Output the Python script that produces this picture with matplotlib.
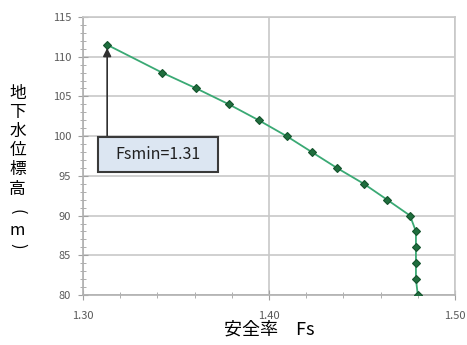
import matplotlib
matplotlib.use('Agg')
import matplotlib.pyplot as plt
from matplotlib.patches import Rectangle
from matplotlib.ticker import MultipleLocator

plt.rcParams['font.family'] = ['Noto Sans CJK JP', 'DejaVu Sans']

# safety factor vs groundwater level
fs = [1.313, 1.3425, 1.361, 1.3785, 1.3945, 1.4095, 1.423, 1.4365, 1.451,
      1.4635, 1.4758, 1.479, 1.479, 1.479, 1.479, 1.480]
level = [111.5, 108, 106, 104, 102, 100, 98, 96, 94, 92, 90, 88, 86, 84, 82, 80]
fsmin_label = 'Fsmin=1.31'

fig = plt.figure(figsize=(4.67, 3.45), dpi=100)
ax = fig.add_axes([0.1777, 0.1449, 0.7966, 0.8058])

ax.plot(fs, level, color='#3aa974', lw=1.3, marker='D', ms=3.6,
        mfc='#1f6e3e', mec='#15532d', mew=0.8, zorder=3)

ax.set_xlim(1.30, 1.50)
ax.set_ylim(80, 115)
ax.xaxis.set_major_locator(MultipleLocator(0.1))
ax.xaxis.set_minor_locator(MultipleLocator(0.02))
ax.yaxis.set_major_locator(MultipleLocator(5))
ax.yaxis.set_minor_locator(MultipleLocator(1))
ax.xaxis.set_major_formatter(lambda v, p: '%.2f' % v)
ax.grid(which='major', color='#c8c8c8', lw=1.2)
ax.set_axisbelow(True)
for s in ax.spines.values():
    s.set_color('#c8c8c8')
    s.set_linewidth(1.2)
ax.spines['left'].set_color('#b0b0b0')
ax.spines['bottom'].set_color('#b0b0b0')
ax.tick_params(which='both', direction='inout', color='#a0a0a0',
               labelcolor='#595959', labelsize=8)
ax.tick_params(which='major', length=7)
ax.tick_params(which='minor', length=5)
ax.tick_params(axis='x', pad=8)
ax.tick_params(axis='y', pad=5)

# arrow to the minimum and label box
ax.annotate('', xy=(fs[0], level[0] - 0.4), xytext=(fs[0], 99.9),
            arrowprops=dict(arrowstyle='-|>', color='#303030', lw=1.2,
                            mutation_scale=12, shrinkA=0, shrinkB=0))
ax.add_patch(Rectangle((1.3081, 95.5), 0.0645, 4.4, facecolor='#dce6f2',
                       edgecolor='#3a3a3a', lw=1.5, zorder=4))
ax.text(1.3405, 97.7, fsmin_label, ha='center', va='center', fontsize=11.5,
        color='#202020', zorder=5)

ax.set_xlabel('安全率\u3000Fs', fontsize=13, labelpad=0)

# vertical y label
fig.text(0.0375, 0.755, '地\n下\n水\n位\n標\n高', ha='center', va='top',
         fontsize=12, linespacing=1.17)
fig.text(0.0375, 0.385, '(', ha='center', va='center', rotation=-90, fontsize=12)
fig.text(0.0375, 0.333, 'm', ha='center', va='center', fontsize=12)
fig.text(0.0375, 0.288, ')', ha='center', va='center', rotation=-90, fontsize=12)

fig.savefig('out.png', dpi=100)
